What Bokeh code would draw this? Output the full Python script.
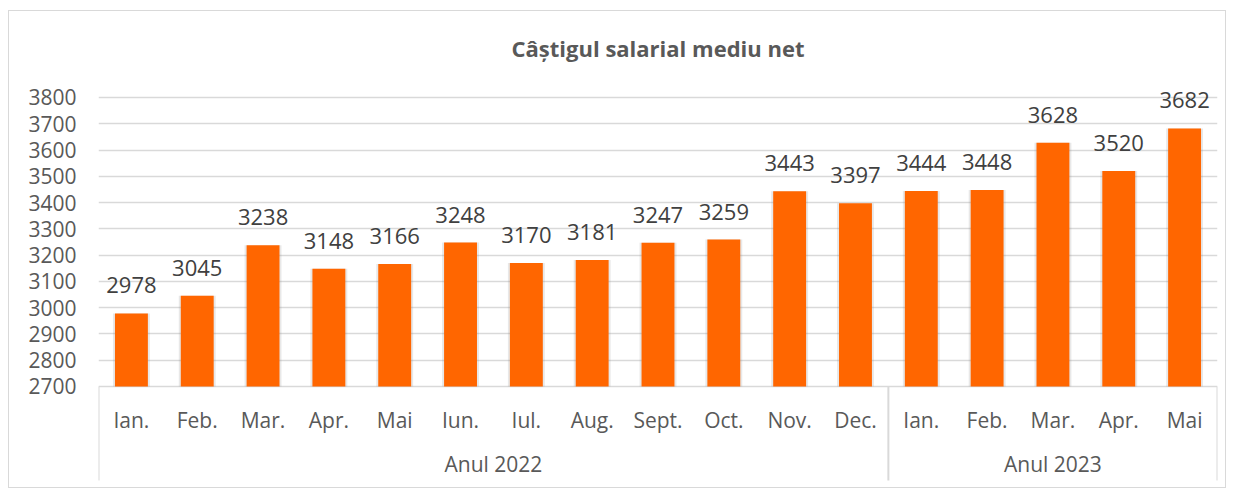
from bokeh.plotting import figure
from bokeh.models import Range1d, FixedTicker, ColumnDataSource, Title
from bokeh.core.properties import value
from bokeh.embed import file_html
from bokeh.resources import INLINE

months = ["Ian.", "Feb.", "Mar.", "Apr.", "Mai", "Iun.", "Iul.", "Aug.", "Sept.", "Oct.", "Nov.", "Dec.",
          "Ian.", "Feb.", "Mar.", "Apr.", "Mai"]
groups = ["Anul 2022", "Anul 2023"]
group_sizes = [12, 5]
values = [2978, 3045, 3238, 3148, 3166, 3248, 3170, 3181, 3247, 3259, 3443, 3397,
          3444, 3448, 3628, 3520, 3682]
y_ticks = [2700, 2800, 2900, 3000, 3100, 3200, 3300, 3400, 3500, 3600, 3700, 3800]

FONT = "Open Sans"
n = len(values)
xs = [i + 0.5 for i in range(n)]
base = y_ticks[0]

p = figure(width=1218, height=478, output_backend="svg", toolbar_location=None,
           x_range=Range1d(0, n), y_range=Range1d(2311.6, 3925.6),
           x_axis_location=None, min_border_left=89, min_border_right=10,
           min_border_top=53, min_border_bottom=1)
p.styles = {"margin-left": "8px", "margin-top": "10px", "border": "1px solid #d9d9d9",
            "box-sizing": "border-box"}
p.outline_line_color = None
p.background_fill_color = "white"
p.border_fill_color = "white"

t = Title(text="Câștigul salarial mediu net", align="center", text_font=FONT,
          text_font_size="22px", text_font_style="bold", text_color="#595959", offset=0, standoff=4)
p.add_layout(t, "above")
p.title.visible = False

# axes / grid
ticker = FixedTicker(ticks=y_ticks)
p.yaxis.ticker = ticker
p.ygrid.ticker = ticker
p.yaxis.axis_line_color = None
p.yaxis.major_tick_line_color = None
p.yaxis.minor_tick_line_color = None
p.yaxis.major_tick_out = 0
p.yaxis.major_label_standoff = 22
p.yaxis.major_label_text_font = FONT
p.yaxis.major_label_text_font_size = "21px"
p.yaxis.major_label_text_color = "#595959"
p.xgrid.grid_line_color = None
p.ygrid.grid_line_color = "#d9d9d9"
p.ygrid.grid_line_width = 1.5

src = ColumnDataSource(dict(x=xs, top=values, lab=[str(v) for v in values], month=months,
                            bottom=[base] * n))

# shadow
p.vbar(x="x", top="top", bottom="bottom", width=0.56, source=src, fill_color="#7f7f7f",
       fill_alpha=0.18, line_color=None)
p.vbar(x="x", top="top", bottom="bottom", width=0.5, source=src, fill_color="#FF6600", line_color=None)

p.text(x="x", y="top", text="lab", source=src, text_align="center", text_baseline="bottom",
       y_offset=-20, text_font=value(FONT), text_font_size="22px", text_color="#404040")

# category labels
p.text(x="x", y=2574, text="month", source=src, text_align="center", text_baseline="middle",
       text_font=value(FONT), text_font_size="21px", text_color="#595959")

edges = [0]
for s in group_sizes:
    edges.append(edges[-1] + s)
gx = [(edges[i] + edges[i + 1]) / 2 for i in range(len(groups))]
p.text(x=gx, y=[2403] * len(groups), text=groups, text_align="center", text_baseline="middle",
       text_font=value(FONT), text_font_size="21px", text_color="#595959")

p.segment(x0=edges, y0=[base] * len(edges), x1=edges, y1=[2342] * len(edges),
          line_color="#d9d9d9", line_width=2)

open("out.html", "w").write(file_html(p, INLINE))
